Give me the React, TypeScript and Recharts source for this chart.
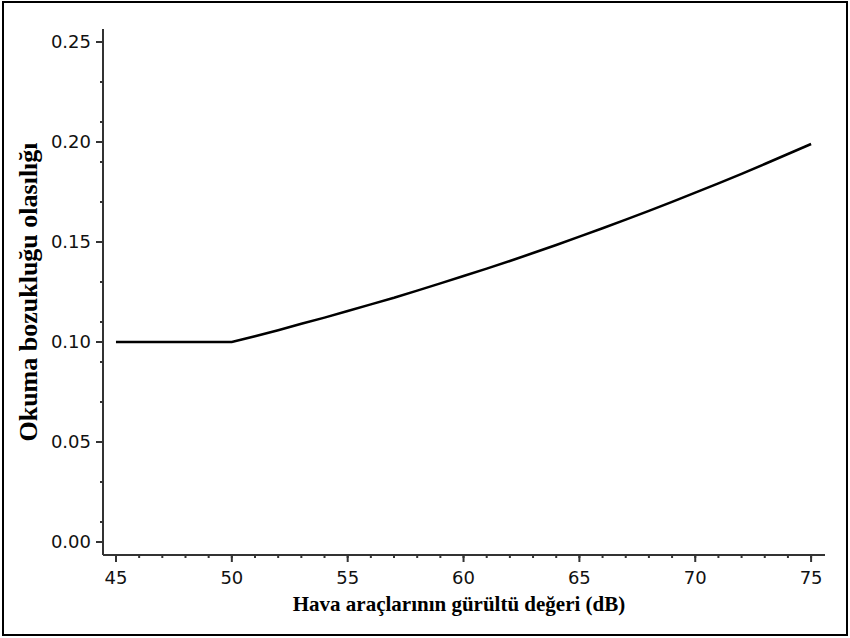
import React from 'react';
import { LineChart, Line, XAxis, YAxis } from 'recharts';

// noise level (dB) and probability of reading impairment
const noiseDb = [45, 46, 47, 48, 49, 50, 51, 52, 53, 54, 55, 56, 57, 58, 59, 60, 61, 62, 63, 64, 65, 66, 67, 68, 69, 70, 71, 72, 73, 74, 75];
const probability = [
    0.1, 0.1, 0.1, 0.1, 0.1, 0.1, 0.1029, 0.1059, 0.1091, 0.1122, 0.1155, 0.1188, 0.1221, 0.1257, 0.1293, 0.133,
    0.1367, 0.1405, 0.1445, 0.1485, 0.1527, 0.1569, 0.1612, 0.1656, 0.1701, 0.1747, 0.1793, 0.1841, 0.189, 0.194, 0.199,
];

const xMajorTicks = [45, 50, 55, 60, 65, 70, 75];
const xMinorTicks = [45, 46, 47, 48, 49, 50, 51, 52, 53, 54, 55, 56, 57, 58, 59, 60, 61, 62, 63, 64, 65, 66, 67, 68, 69, 70, 71, 72, 73, 74, 75];
const yMajorTicks = [0, 0.05, 0.1, 0.15, 0.2, 0.25];
const yMinorTicks = [0, 0.01, 0.02, 0.03, 0.04, 0.05, 0.06, 0.07, 0.08, 0.09, 0.1, 0.11, 0.12, 0.13, 0.14, 0.15, 0.16, 0.17, 0.18, 0.19, 0.2, 0.21, 0.22, 0.23, 0.24, 0.25];

const xTitle = 'Hava araçlarının gürültü değeri (dB)';
const yTitle = 'Okuma bozukluğu olasılığı';

const data = noiseDb.map((db, i) => ({ db, p: probability[i] }));

const xDomain = [44.44, 75.6];
const yDomain = [-0.0065, 0.2565];

const tickFont = { fill: '#111', fontSize: 18, fontFamily: '"DejaVu Sans", sans-serif' };
const titleFont = { fill: '#000', fontWeight: 700, fontFamily: '"Liberation Serif", "Times New Roman", serif' };
const axisColor = '#333';

const noLabel = () => <g />;

const App: React.FC = () => {
    return (
        <div style={{ position: 'absolute', left: 0, top: 0, width: 850, height: 638, background: '#fff' }}>
            <div
                style={{
                    position: 'absolute',
                    left: 2,
                    top: 1,
                    width: 846,
                    height: 635,
                    border: '2px solid #000',
                    boxSizing: 'border-box',
                }}
            />
            <div style={{ position: 'absolute', left: 0, top: 0 }}>
                <LineChart width={850} height={638} data={data} margin={{ top: 29, right: 25, left: 23, bottom: 13 }}>
                    {/* axes get stacked by id, the "a" ones sit on the plot edge */}
                    <XAxis
                        xAxisId="aMinor"
                        dataKey="db"
                        type="number"
                        domain={xDomain}
                        allowDataOverflow
                        ticks={xMinorTicks}
                        height={1}
                        axisLine={{ stroke: axisColor, strokeWidth: 2 }}
                        tick={noLabel}
                        tickSize={3}
                        tickLine={{ stroke: axisColor, strokeWidth: 2 }}
                    />
                    <YAxis
                        yAxisId="aMinor"
                        type="number"
                        domain={yDomain}
                        allowDataOverflow
                        ticks={yMinorTicks}
                        width={1}
                        axisLine={{ stroke: axisColor, strokeWidth: 2 }}
                        tick={noLabel}
                        tickSize={3}
                        tickLine={{ stroke: axisColor, strokeWidth: 2 }}
                    />
                    <XAxis
                        xAxisId="bMain"
                        dataKey="db"
                        type="number"
                        domain={xDomain}
                        allowDataOverflow
                        ticks={xMajorTicks}
                        height={69}
                        tickSize={6}
                        tickMargin={9}
                        axisLine={false}
                        tickLine={{ stroke: axisColor, strokeWidth: 2 }}
                        tick={tickFont}
                        label={{
                            content: ({ viewBox }: any) => (
                                <text
                                    x={viewBox.x + viewBox.width / 2 - 5}
                                    y={viewBox.y + 55}
                                    textAnchor="middle"
                                    fontSize={21}
                                    {...titleFont}
                                >
                                    {xTitle}
                                </text>
                            ),
                        }}
                    />
                    <YAxis
                        yAxisId="bMain"
                        type="number"
                        domain={yDomain}
                        allowDataOverflow
                        ticks={yMajorTicks}
                        width={79}
                        tickSize={6}
                        tickMargin={5}
                        tickFormatter={(v: number) => v.toFixed(2)}
                        axisLine={false}
                        tickLine={{ stroke: axisColor, strokeWidth: 2 }}
                        tick={tickFont}
                        label={{
                            content: ({ viewBox }: any) => {
                                const cx = viewBox.x + 5;
                                const cy = viewBox.y + viewBox.height / 2;
                                return (
                                    <text
                                        x={cx}
                                        y={cy}
                                        textAnchor="middle"
                                        dominantBaseline="central"
                                        transform={`rotate(-90, ${cx}, ${cy})`}
                                        fontSize={26}
                                        {...titleFont}
                                    >
                                        {yTitle}
                                    </text>
                                );
                            },
                        }}
                    />
                    <Line
                        xAxisId="bMain"
                        yAxisId="bMain"
                        type="linear"
                        dataKey="p"
                        stroke="#000"
                        strokeWidth={2.5}
                        dot={false}
                        isAnimationActive={false}
                    />
                </LineChart>
            </div>
        </div>
    );
};

export default App;
